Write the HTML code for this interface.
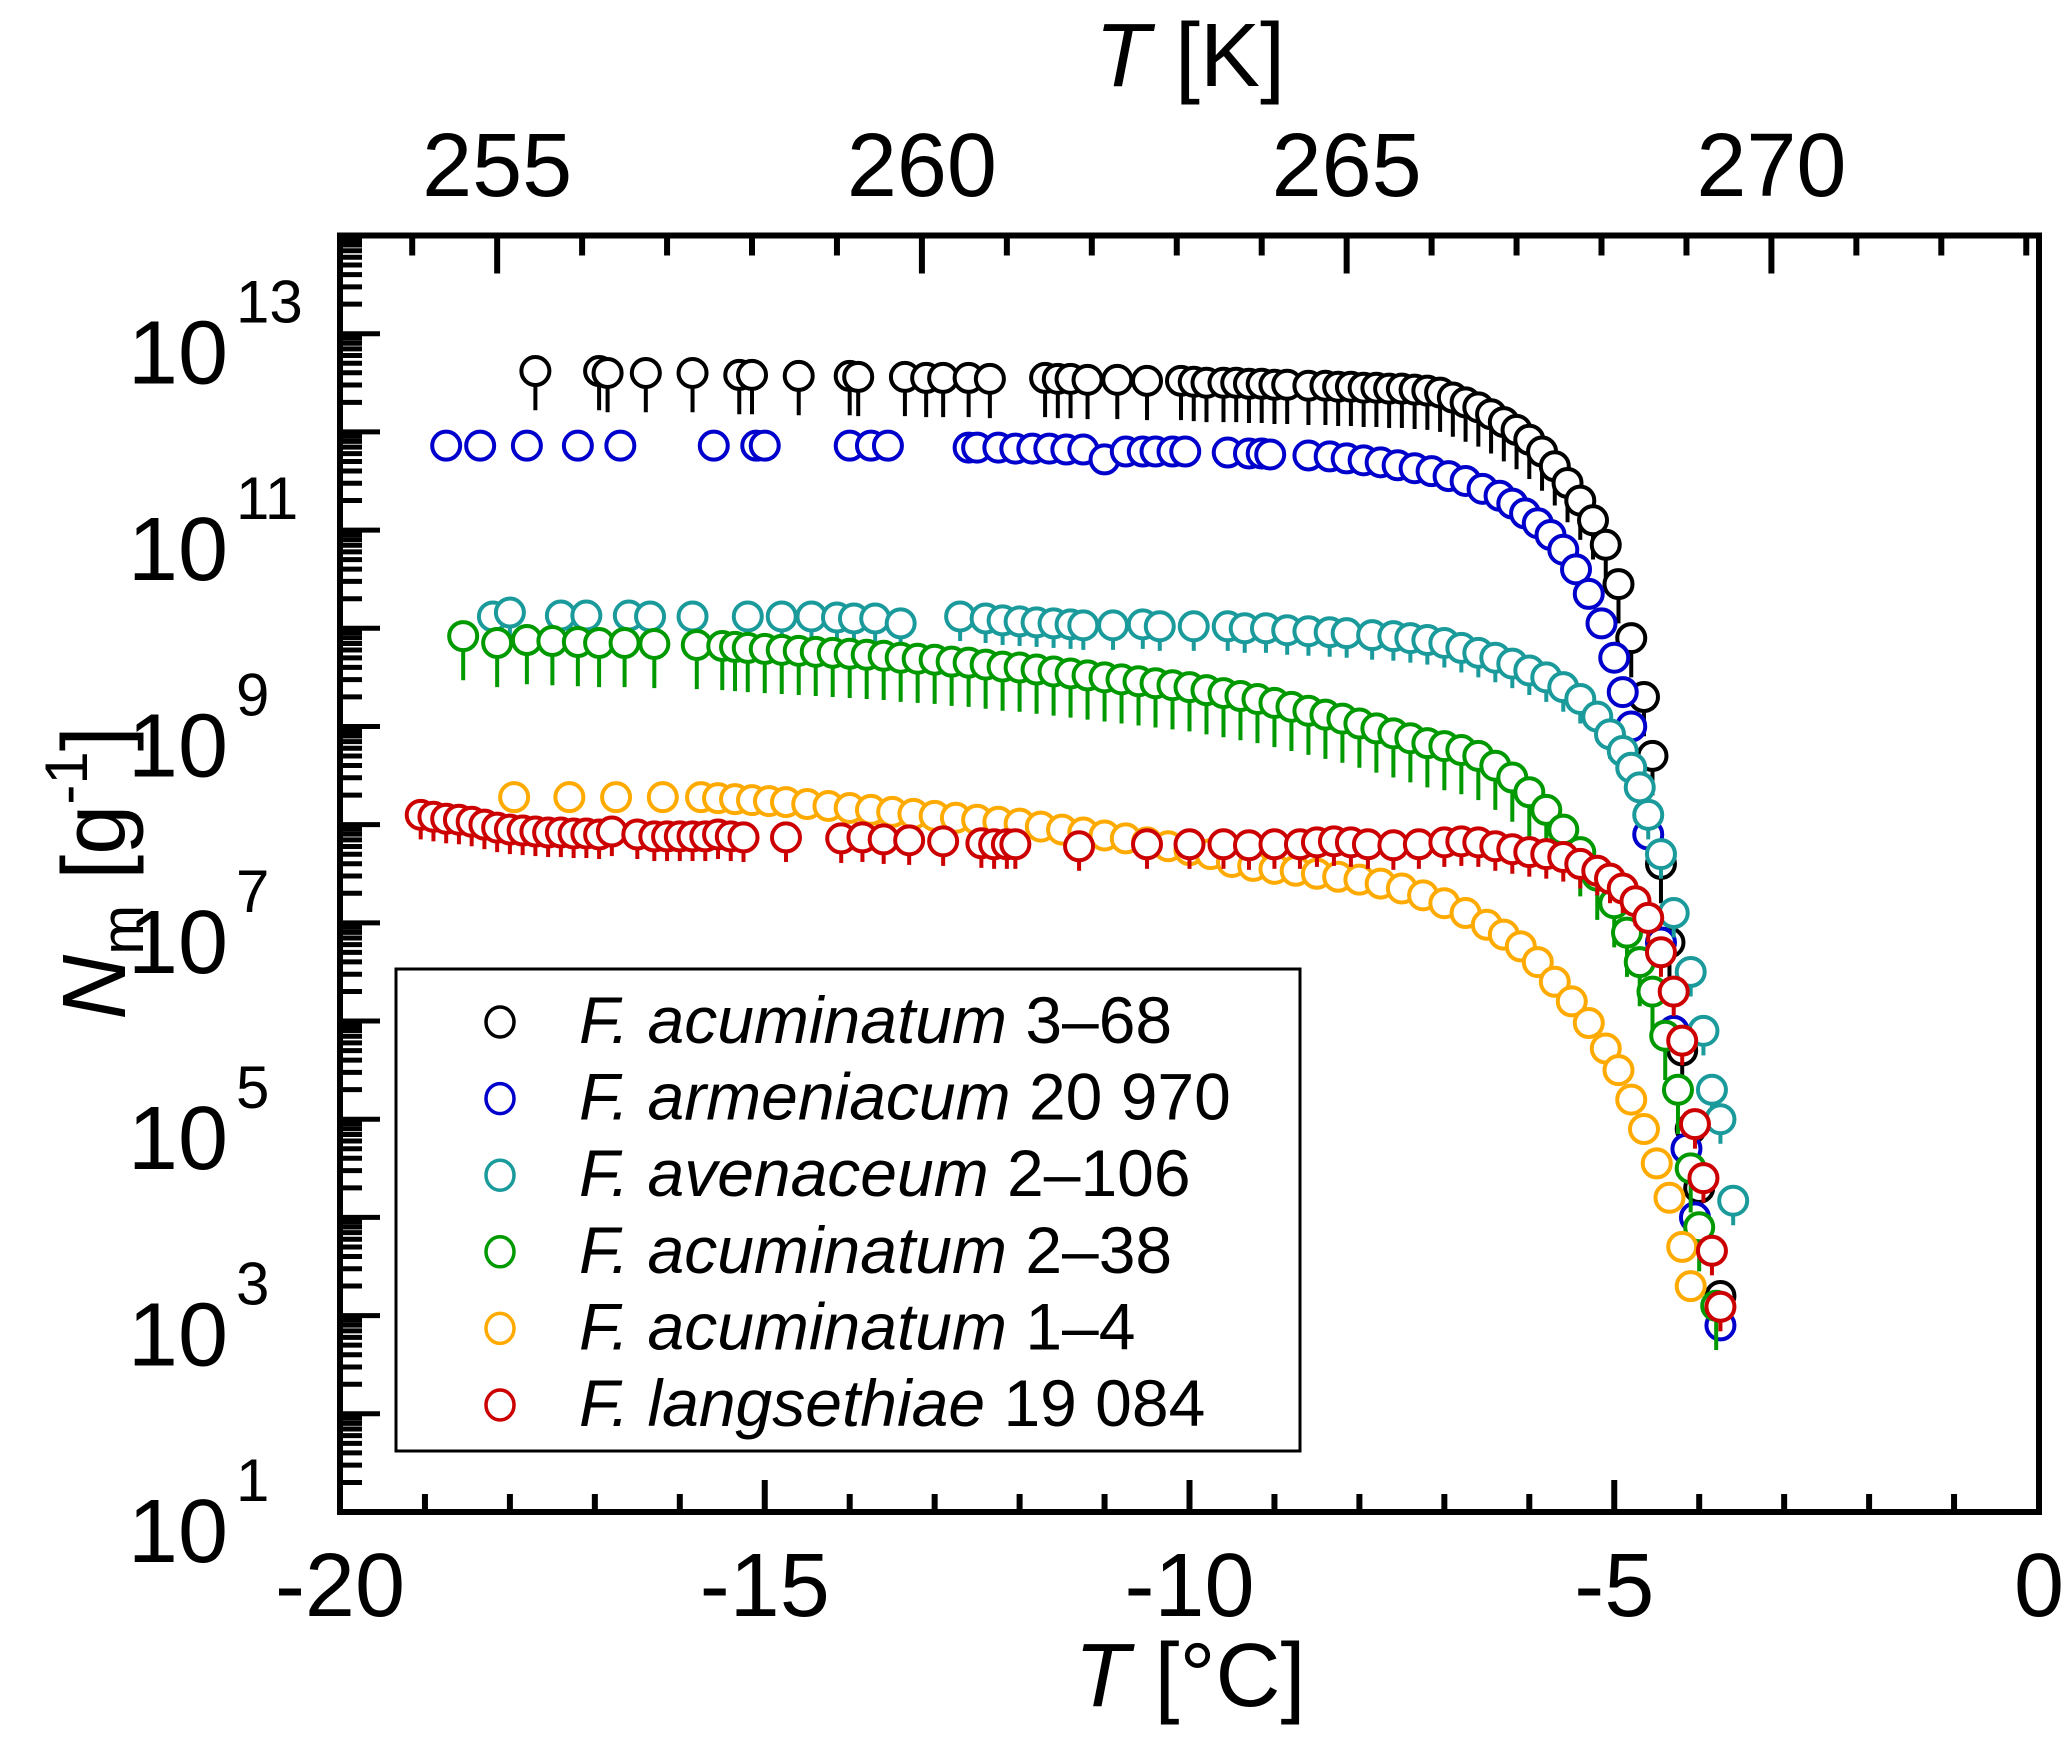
<!DOCTYPE html>
<html><head><meta charset="utf-8"><style>
html,body{margin:0;padding:0;background:#fff}
svg{display:block}
text{font-family:"Liberation Sans",sans-serif;fill:#000}
</style></head><body>
<svg id="chart" width="2067" height="1757" viewBox="0 0 2067 1757" xmlns="http://www.w3.org/2000/svg">
<g id="axes"></g>
<g id="marks"></g>
<rect x="340" y="235.5" width="1699" height="1276.5" fill="none" stroke="#000" stroke-width="6"/>
<text x="1190" y="1706" font-size="90" text-anchor="middle"><tspan font-style="italic">T</tspan> [°C]</text>
<text x="1190" y="86" font-size="90" text-anchor="middle"><tspan font-style="italic">T</tspan> [K]</text>
<text transform="translate(125,873) rotate(-90)" font-size="90" text-anchor="middle"><tspan font-style="italic">N</tspan><tspan font-size="60" dy="18">m</tspan><tspan dy="-18"> [g</tspan><tspan font-size="60" dy="-38">-1</tspan><tspan dy="38">]</tspan></text>
<g>
<rect x="396" y="969" width="904" height="482" fill="#fff" stroke="#000" stroke-width="3"/>
<g id="legend-entries"></g>
</g>
</svg>
<script>
// ---- data (T in °C, log10 of N_m) ----
const blackT=[-17.7,-16.95,-16.85,-16.4,-15.85,-15.3,-15.15,-14.6,-14.0,-13.9,-13.35,-13.1,-12.9,-12.6,-12.35,-11.7,-11.55,-11.4,-11.2,-10.85,-10.5,-10.1,-9.95,-9.8,-9.6,-9.45,-9.3,-9.15,-9.0,-8.85,-8.6,-8.4,-8.25,-8.1,-7.95,-7.8,-7.65,-7.5,-7.35,-7.2,-7.05,-6.9,-6.75,-6.6,-6.45,-6.3,-6.15,-6.0,-5.85,-5.7,-5.55,-5.4,-5.25,-5.1,-4.95,-4.8,-4.65,-4.55,-4.45,-4.35,-4.2,-4.1,-4.0,-3.75];
const blackLogN=[12.62,12.62,12.6,12.6,12.6,12.58,12.58,12.57,12.57,12.56,12.56,12.55,12.55,12.55,12.54,12.55,12.54,12.54,12.53,12.53,12.52,12.52,12.51,12.5,12.5,12.5,12.49,12.49,12.48,12.48,12.47,12.47,12.46,12.46,12.45,12.45,12.44,12.44,12.43,12.42,12.4,12.35,12.3,12.25,12.18,12.1,12.02,11.92,11.8,11.65,11.48,11.3,11.1,10.85,10.45,9.9,9.3,8.7,7.6,6.8,5.7,4.9,4.3,3.2];
const blueT=[-18.75,-18.35,-17.8,-17.2,-16.7,-15.6,-15.1,-15.0,-14.0,-13.75,-13.55,-12.6,-12.5,-12.25,-12.05,-11.85,-11.65,-11.45,-11.25,-11.0,-10.75,-10.55,-10.4,-10.2,-10.05,-9.55,-9.3,-9.15,-9.05,-8.6,-8.35,-8.15,-7.95,-7.75,-7.55,-7.35,-7.15,-6.95,-6.75,-6.55,-6.35,-6.2,-6.05,-5.9,-5.75,-5.6,-5.45,-5.3,-5.15,-5.0,-4.9,-4.8,-4.6,-4.45,-4.3,-4.15,-4.05,-3.75];
const blueLogN=[11.86,11.86,11.86,11.86,11.86,11.86,11.86,11.86,11.86,11.86,11.86,11.84,11.84,11.84,11.83,11.83,11.83,11.82,11.82,11.72,11.8,11.8,11.8,11.8,11.8,11.79,11.78,11.78,11.77,11.76,11.75,11.73,11.71,11.69,11.66,11.63,11.6,11.55,11.5,11.42,11.35,11.27,11.17,11.07,10.95,10.8,10.6,10.35,10.05,9.7,9.35,9.0,7.9,6.8,5.9,4.7,4.0,2.9];
const tealT=[-18.2,-18.0,-17.4,-17.1,-16.6,-16.35,-15.85,-15.2,-14.8,-14.45,-14.15,-13.95,-13.7,-13.4,-12.7,-12.4,-12.2,-12.0,-11.8,-11.6,-11.4,-11.25,-10.9,-10.55,-10.35,-9.95,-9.55,-9.35,-9.1,-8.85,-8.6,-8.35,-8.15,-7.85,-7.6,-7.4,-7.2,-7.0,-6.8,-6.6,-6.4,-6.2,-6.0,-5.8,-5.6,-5.4,-5.2,-5.05,-4.9,-4.8,-4.7,-4.6,-4.45,-4.3,-4.1,-3.95,-3.85,-3.75,-3.6];
const tealLogN=[10.12,10.16,10.13,10.13,10.13,10.12,10.12,10.12,10.12,10.12,10.11,10.1,10.1,10.05,10.12,10.1,10.08,10.07,10.06,10.05,10.04,10.03,10.03,10.04,10.02,10.02,10.02,10.0,10.0,9.98,9.97,9.96,9.95,9.93,9.92,9.9,9.88,9.85,9.8,9.75,9.7,9.64,9.57,9.5,9.4,9.28,9.1,8.92,8.75,8.58,8.38,8.1,7.7,7.1,6.5,5.9,5.3,5.0,4.17];
const greenT=[-18.55,-18.15,-17.8,-17.5,-17.2,-16.95,-16.65,-16.3,-15.8,-15.5,-15.35,-15.2,-15.0,-14.8,-14.6,-14.4,-14.2,-14.0,-13.8,-13.6,-13.4,-13.2,-13.0,-12.8,-12.6,-12.4,-12.2,-12.0,-11.8,-11.6,-11.4,-11.2,-11.0,-10.8,-10.6,-10.4,-10.2,-10.0,-9.8,-9.6,-9.4,-9.2,-9.0,-8.8,-8.6,-8.4,-8.2,-8.0,-7.8,-7.6,-7.4,-7.2,-7.0,-6.8,-6.6,-6.4,-6.2,-6.0,-5.8,-5.6,-5.4,-5.2,-5.0,-4.85,-4.7,-4.55,-4.4,-4.25,-4.1,-4.0,-3.8];
const greenLogN=[9.92,9.85,9.88,9.87,9.86,9.85,9.85,9.84,9.83,9.82,9.81,9.8,9.79,9.78,9.77,9.76,9.75,9.74,9.73,9.72,9.7,9.69,9.68,9.66,9.65,9.63,9.61,9.6,9.58,9.56,9.54,9.52,9.5,9.48,9.46,9.44,9.42,9.4,9.37,9.34,9.31,9.28,9.24,9.2,9.16,9.12,9.08,9.03,8.98,8.93,8.88,8.83,8.8,8.76,8.7,8.6,8.48,8.33,8.15,7.95,7.72,7.48,7.2,6.9,6.6,6.3,5.85,5.3,4.5,3.9,3.1];
const orangeT=[-17.95,-17.3,-16.75,-16.2,-15.75,-15.55,-15.35,-15.15,-14.95,-14.75,-14.5,-14.25,-14.0,-13.75,-13.5,-13.25,-13.0,-12.75,-12.5,-12.25,-12.0,-11.75,-11.5,-11.25,-11.0,-10.75,-10.5,-10.25,-10.0,-9.75,-9.5,-9.25,-9.0,-8.75,-8.5,-8.25,-8.0,-7.75,-7.5,-7.25,-7.0,-6.75,-6.5,-6.3,-6.1,-5.9,-5.7,-5.5,-5.3,-5.1,-4.95,-4.8,-4.65,-4.5,-4.35,-4.2,-4.1];
const orangeLogN=[8.28,8.28,8.28,8.28,8.28,8.27,8.26,8.25,8.24,8.23,8.21,8.19,8.17,8.15,8.13,8.11,8.09,8.07,8.05,8.03,8.01,7.98,7.95,7.92,7.89,7.86,7.82,7.78,7.74,7.7,7.62,7.58,7.55,7.53,7.5,7.47,7.44,7.4,7.35,7.28,7.2,7.1,6.98,6.88,6.76,6.6,6.4,6.2,5.98,5.72,5.5,5.2,4.9,4.55,4.2,3.7,3.3];
const redT=[-19.05,-18.9,-18.75,-18.6,-18.45,-18.3,-18.15,-18.0,-17.85,-17.7,-17.55,-17.4,-17.25,-17.1,-16.95,-16.8,-16.5,-16.3,-16.15,-16.0,-15.85,-15.7,-15.55,-15.4,-15.25,-14.75,-14.1,-13.85,-13.6,-13.3,-12.9,-12.45,-12.3,-12.15,-12.05,-11.3,-10.5,-10.0,-9.6,-9.3,-9.0,-8.7,-8.5,-8.3,-8.1,-7.9,-7.6,-7.3,-7.0,-6.8,-6.6,-6.4,-6.2,-6.0,-5.8,-5.6,-5.4,-5.2,-5.05,-4.9,-4.75,-4.6,-4.45,-4.3,-4.2,-4.05,-3.95,-3.85,-3.75];
const redLogN=[8.1,8.08,8.06,8.05,8.03,8.0,7.97,7.95,7.94,7.93,7.92,7.92,7.91,7.91,7.9,7.93,7.9,7.88,7.88,7.88,7.88,7.88,7.9,7.88,7.87,7.87,7.86,7.87,7.85,7.84,7.83,7.81,7.8,7.8,7.8,7.78,7.8,7.8,7.8,7.79,7.8,7.8,7.82,7.83,7.82,7.8,7.79,7.8,7.82,7.83,7.82,7.78,7.75,7.72,7.7,7.67,7.6,7.53,7.45,7.35,7.22,7.05,6.7,6.3,5.8,4.95,4.4,3.66,3.09];
const seriesNames=["F. acuminatum 3–68","F. armeniacum 20 970","F. avenaceum 2–106","F. acuminatum 2–38","F. acuminatum 1–4","F. langsethiae 19 084"];
const errDown=[0.4,0,0.25,0.45,0.15,0.25];
const errUp=[0.15,0,0.1,0.1,0.05,0.08];
const xTicksC=[-20,-15,-10,-5,0];
const xTicksK=[255,260,265,270];
const yExps=[1,3,5,7,9,11,13];

// ---- axis functions ----
const X0=340,X1=2039,Y0=1512,Y1=235.5;
const xS=t=>X0+(t+20)/20*(X1-X0);
const yS=l=>Y0-(l-1)/13*(Y0-Y1);
const NS="http://www.w3.org/2000/svg";
function mk(tag,attrs,parent){const e=document.createElementNS(NS,tag);for(const k in attrs)e.setAttribute(k,attrs[k]);parent.appendChild(e);return e;}
const axes=document.getElementById('axes');
// bottom ticks
for(let t=-20;t<=0;t++){
 const major=t%5===0;
 const l=mk('line',{x1:xS(t),x2:xS(t),y1:Y0,y2:Y0-(major?32:18),stroke:'#000','stroke-width':6},axes);
 
 
}
xTicksC.forEach(t=>{const e=mk('text',{x:xS(t),y:1616,'font-size':90,'text-anchor':'middle'},axes);e.textContent=String(t);
 
 });
// top ticks (K)
for(let k=254;k<=273;k++){
 const t=k-273.15; if(t<-20||t>0)continue;
 const major=k%5===0;
 const l=mk('line',{x1:xS(t),x2:xS(t),y1:Y1,y2:Y1+(major?38:20),stroke:'#000','stroke-width':6},axes);
 
 
}
xTicksK.forEach(k=>{const e=mk('text',{x:xS(k-273.15),y:196,'font-size':90,'text-anchor':'middle'},axes);e.textContent=String(k);
 
 });
// y ticks
for(let d=1;d<=13;d++){
 for(let m=1;m<=9;m++){
  const l10=d+Math.log10(m); const y=yS(l10);
  const t=mk('line',{x1:X0,x2:X0+(m===1?40:22),y1:y,y2:y,stroke:'#000','stroke-width':5},axes);
  
  
 }
}
mk('line',{x1:X0,x2:X0+40,y1:yS(14),y2:yS(14),stroke:'#000','stroke-width':5},axes);
yExps.forEach(p=>{const y=yS(p);
 const g=mk('g',{},axes);
 
 
 const a=mk('text',{x:228,y:y+50,'font-size':90,'text-anchor':'end'},g);a.textContent='10';
 const b=mk('text',{x:236,y:y-11,'font-size':60},g);b.textContent=String(p);
});
// series
const colors=['#000000','#0000cc','#1a9a9a','#009900','#ffaa00','#cc0000'];
const Ts=[blackT,blueT,tealT,greenT,orangeT,redT];
const Ls=[blackLogN,blueLogN,tealLogN,greenLogN,orangeLogN,redLogN];
const marks=document.getElementById('marks');
Ts.forEach((T,s)=>{
 const g=mk('g',{},marks);
 
 
 T.forEach((t,i)=>{
  const cx=xS(t),cy=yS(Ls[s][i]);
  if(errDown[s]>0){
   const eb=mk('line',{x1:cx,x2:cx,y1:yS(Ls[s][i]+errUp[s]),y2:yS(Ls[s][i]-errDown[s]),stroke:colors[s],'stroke-width':4},g);
   
   
  }
  const c=mk('circle',{cx:cx,cy:cy,r:14,fill:'#fff',stroke:colors[s],'stroke-width':4},g);
  
  
 });
});
// legend
const le=document.getElementById('legend-entries');
seriesNames.forEach((n,i)=>{
 const y=1022+i*76.6;
 const g=mk('g',{},le);
 
 
 mk('ellipse',{cx:500,cy:y,rx:14,ry:15,fill:'#fff',stroke:colors[i],'stroke-width':3.5},g);
 const sp=n.indexOf(' ',3);
 const t=mk('text',{x:579,y:y+21,'font-size':66},g);
 const it=mk('tspan',{'font-style':'italic'},t);it.textContent=n.slice(0,sp)+' ';
 const rest=mk('tspan',{},t);rest.textContent=n.slice(sp+1);
});
</script>
</body></html>
